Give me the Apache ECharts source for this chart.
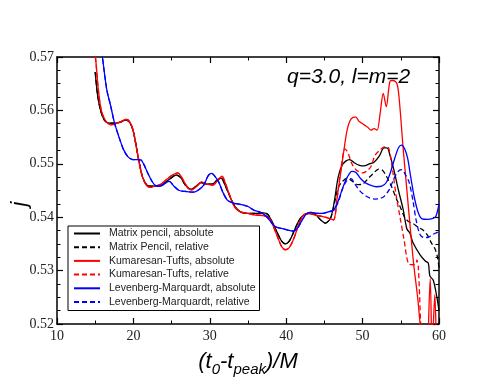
<!DOCTYPE html>
<html>
<head>
<meta charset="utf-8">
<script src="https://cdn.jsdelivr.net/npm/echarts@6/dist/echarts.min.js"></script>
<style>html,body{margin:0;padding:0;background:#fff}#c{width:494px;height:382px}</style>
</head>
<body>
<div id="c"></div>
<script>
// Axis ticks
const xTicks = [10, 20, 30, 40, 50, 60];
const yTicks = [0.52, 0.53, 0.54, 0.55, 0.56, 0.57];

// Series names
const seriesNames = [
  'Matrix pencil, absolute',
  'Matrix Pencil, relative',
  'Kumaresan-Tufts, absolute',
  'Kumaresan-Tufts, relative',
  'Levenberg-Marquardt, absolute',
  'Levenberg-Marquardt, relative'
];

// Shared early part of black curves [t, j]
const mpEarly = [[15.0,0.5672],[15.3,0.5630],[15.7,0.5600],[16.2,0.5582],[16.9,0.5576],[17.6,0.5576],[18.3,0.5578],[19.0,0.5582],[19.5,0.5578],[20.0,0.5560],[20.6,0.5515],[21.2,0.5475],[21.8,0.5460],[22.5,0.5458],[23.3,0.5459],[24.0,0.5463],[24.8,0.5472],[25.6,0.5479],[26.2,0.5474],[26.8,0.5460],[27.5,0.5452],[28.2,0.5458],[28.9,0.5465],[29.6,0.5462],[30.3,0.5462],[31.0,0.5470],[31.5,0.5473],[32.0,0.5460],[32.6,0.5440],[33.3,0.5420],[34.0,0.5410],[35.0,0.5407],[36.0,0.5407],[37.0,0.5408],[37.6,0.5405],[38.2,0.5390],[38.8,0.5372],[39.4,0.5355],[39.9,0.5350],[40.4,0.5355],[41.0,0.5373],[41.6,0.5392],[42.2,0.5403],[43.0,0.5407],[43.8,0.5405],[44.5,0.5395],[45.1,0.5389],[45.8,0.5398]];
const mpAbsLate = [[46.3,0.5430],[46.8,0.5475],[47.3,0.5497],[47.8,0.5505],[48.3,0.5508],[48.9,0.5502],[49.6,0.5497],[50.2,0.5496],[50.9,0.5500],[51.5,0.5503],[52.2,0.5515],[52.8,0.5530],[53.2,0.5530],[53.6,0.5515],[54.1,0.5488],[54.7,0.5450],[55.3,0.5415],[55.8,0.5378],[56.2,0.5370],[56.6,0.5352],[57.5,0.5330],[58.2,0.5318],[58.6,0.5314],[58.8,0.5290],[59.25,0.5282],[59.7,0.5252],[60.0,0.5225]];
const mpRelLate = [[46.3,0.5425],[46.8,0.5455],[47.3,0.5466],[48.0,0.5473],[48.6,0.5468],[49.4,0.5461],[50.0,0.5462],[50.7,0.5472],[51.4,0.5482],[52.1,0.5490],[52.6,0.5488],[53.1,0.5477],[53.8,0.5457],[54.4,0.5435],[54.9,0.5420],[55.5,0.5400],[56.0,0.5392],[56.6,0.5388],[57.2,0.5382],[57.9,0.5376],[58.5,0.5366],[59.0,0.5352],[59.5,0.5340],[59.8,0.5325],[60.0,0.5305]];

// Shared early part of red curves
const ktEarly = [[14.9,0.5715],[15.1,0.5690],[15.4,0.5640],[15.8,0.5600],[16.3,0.5582],[17.0,0.5573],[17.7,0.5575],[18.4,0.5579],[19.0,0.5583],[19.4,0.5581],[19.9,0.5566],[20.4,0.5530],[21.0,0.5485],[21.6,0.5462],[22.2,0.5456],[22.9,0.5458],[23.6,0.5462],[24.3,0.5470],[25.0,0.5478],[25.8,0.5483],[26.3,0.5475],[26.9,0.5460],[27.6,0.5451],[28.3,0.5458],[28.9,0.5466],[29.6,0.5462],[30.4,0.5460],[31.0,0.5468],[31.6,0.5477],[32.0,0.5465],[32.5,0.5445],[33.2,0.5420],[34.0,0.5410],[35.0,0.5407],[36.0,0.5404],[37.0,0.5403],[37.8,0.5398],[38.4,0.5380],[38.9,0.5362],[39.4,0.5345],[39.9,0.5339],[40.4,0.5343],[41.0,0.5360],[41.6,0.5385],[42.2,0.5403],[42.9,0.5407],[43.8,0.5404],[44.8,0.5401],[45.6,0.5398],[46.2,0.5395]];
const ktAbsLate = [[46.7,0.5440],[47.2,0.5490],[47.6,0.5530],[48.0,0.5565],[48.5,0.5584],[49.1,0.5588],[49.5,0.5580],[49.9,0.5576],[50.3,0.5572],[50.7,0.5568],[51.1,0.5563],[51.5,0.5566],[51.9,0.5563],[52.3,0.5595],[52.7,0.5632],[53.1,0.5607],[53.6,0.5655],[54.0,0.5656],[54.5,0.5650],[54.8,0.5620],[55.3,0.5530],[55.8,0.5450],[56.3,0.5370],[56.7,0.5310],[57.2,0.5250],[57.6,0.5190],[58.3,0.5100],[58.85,0.5285],[59.1,0.5150],[59.45,0.5255],[59.7,0.5150],[60.0,0.5100]];
const ktRelLate = [[46.7,0.5440],[47.2,0.5495],[47.7,0.5528],[48.1,0.5520],[48.6,0.5500],[49.2,0.5488],[50.0,0.5483],[50.6,0.5487],[51.1,0.5495],[51.6,0.5515],[52.3,0.5526],[52.9,0.5532],[53.4,0.5530],[53.9,0.5490],[54.4,0.5440],[54.9,0.5400],[55.4,0.5360],[56.0,0.5313],[56.6,0.5311],[57.0,0.5313],[57.1,0.5320],[57.3,0.5305],[57.6,0.5200],[57.9,0.5100]];

// Shared early part of blue curves
const lmEarly = [[15.0,0.5800],[15.9,0.5705],[16.5,0.5640],[17.0,0.5610],[17.5,0.5578],[18.0,0.5555],[18.7,0.5527],[19.3,0.5513],[19.9,0.5508],[20.5,0.5508],[21.0,0.5507],[21.4,0.5498],[21.9,0.5482],[22.4,0.5468],[22.9,0.5459],[23.5,0.5458],[24.2,0.5464],[24.7,0.5467],[25.3,0.5458],[26.0,0.5450],[27.0,0.5448],[27.9,0.5447],[28.6,0.5452],[29.2,0.5460],[29.8,0.5478],[30.25,0.5482],[30.7,0.5476],[31.2,0.5465],[31.7,0.5447],[32.3,0.5432],[33.0,0.5427],[34.0,0.5424],[35.0,0.5420],[35.8,0.5413],[36.5,0.5410],[37.3,0.5403],[37.9,0.5393],[38.6,0.5382],[39.4,0.5379],[40.2,0.5376],[40.9,0.5374],[41.5,0.5380],[42.1,0.5395],[42.7,0.5407],[43.3,0.5409],[44.0,0.5407],[44.8,0.5407],[45.5,0.5410],[46.2,0.5413]];
const lmAbsLate = [[46.8,0.5430],[47.4,0.5455],[48.0,0.5475],[48.6,0.5486],[49.1,0.5484],[49.7,0.5473],[50.3,0.5465],[51.0,0.5460],[51.8,0.5457],[52.5,0.5458],[53.1,0.5465],[53.6,0.5482],[54.2,0.5510],[54.7,0.5530],[55.1,0.5535],[55.5,0.5528],[55.9,0.5510],[56.3,0.5475],[56.8,0.5435],[57.3,0.5408],[57.8,0.5397],[58.5,0.5396],[59.2,0.5398],[59.6,0.5402],[60.0,0.5425]];
const lmRelLate = [[46.8,0.5428],[47.3,0.5450],[47.9,0.5468],[48.5,0.5472],[49.0,0.5462],[49.6,0.5450],[50.2,0.5442],[50.9,0.5436],[51.6,0.5434],[52.3,0.5435],[52.9,0.5440],[53.5,0.5452],[54.1,0.5472],[54.6,0.5485],[55.1,0.5489],[55.6,0.5480],[56.1,0.5465],[56.6,0.5430],[57.0,0.5395],[57.5,0.5368],[58.0,0.5362],[58.5,0.5362],[59.0,0.5366],[59.5,0.5370],[60.0,0.5373]];

const mpAbs = mpEarly.concat(mpAbsLate);
const mpRel = mpEarly.concat(mpRelLate);
const ktAbs = ktEarly.concat(ktAbsLate);
const ktRel = ktEarly.concat(ktRelLate);
const lmAbs = lmEarly.concat(lmAbsLate);
const lmRel = lmEarly.concat(lmRelLate);

const seriesData = [mpAbs, mpRel, ktAbs, ktRel, lmAbs, lmRel];
const colors = ['#000000', '#000000', '#ff0000', '#ff0000', '#0000ff', '#0000ff'];
const dashed = [false, true, false, true, false, true];

const chart = echarts.init(document.getElementById('c'), null, {renderer: 'canvas'});

const serifFont = '"Liberation Serif", "DejaVu Serif", "Times New Roman", serif';
const sansFont = '"Liberation Sans", Arial, Helvetica, sans-serif';

function axisBase(extra) {
  return Object.assign({
    type: 'value',
    axisLine: {show: true, onZero: false, lineStyle: {color: '#000', width: 1.5}},
    axisTick: {show: true, inside: true, length: 6, lineStyle: {color: '#000', width: 1.2}},
    minorTick: {show: true, length: 3.5, lineStyle: {color: '#000', width: 1}},
    splitLine: {show: false},
    axisLabel: {show: false}
  }, extra);
}

const xCommon = {min: xTicks[0], max: xTicks[xTicks.length - 1], interval: xTicks[1] - xTicks[0]};
const yCommon = {min: yTicks[0], max: yTicks[yTicks.length - 1], interval: 0.01};

const option = {
  animation: false,
  backgroundColor: '#fff',
  grid: {left: 57, right: 55, top: 57, bottom: 58, containLabel: false},
  xAxis: [
    axisBase(Object.assign({}, xCommon, {
      position: 'bottom',
      minorTick: {show: true, splitNumber: 2, length: 3.5, lineStyle: {color: '#000', width: 1}},
      axisLabel: {show: true, margin: 5, fontFamily: serifFont, fontSize: 14, color: '#222'},
      name: '{a|(t}{s|0}{a|-t}{s|peak}{a|)/M}',
      nameLocation: 'middle',
      nameGap: 13,
      nameTextStyle: {
        rich: {
          a: {fontFamily: sansFont, fontStyle: 'italic', fontSize: 22, color: '#000', lineHeight: 26, verticalAlign: 'top'},
          s: {fontFamily: sansFont, fontStyle: 'italic', fontSize: 15, color: '#000', lineHeight: 15, verticalAlign: 'bottom', padding: [14, 0, 0, 0]}
        }
      }
    })),
    axisBase(Object.assign({}, xCommon, {
      position: 'top',
      minorTick: {show: true, splitNumber: 2, length: 3.5, lineStyle: {color: '#000', width: 1}}
    }))
  ],
  yAxis: [
    axisBase(Object.assign({}, yCommon, {
      position: 'left',
      minorTick: {show: true, splitNumber: 4, length: 3.5, lineStyle: {color: '#000', width: 1}},
      axisLabel: {show: true, margin: 3, fontFamily: serifFont, fontSize: 14, color: '#222',
        formatter: v => v.toFixed(2)}
    })),
    axisBase(Object.assign({}, yCommon, {
      position: 'right',
      minorTick: {show: true, splitNumber: 4, length: 3.5, lineStyle: {color: '#000', width: 1}}
    }))
  ],
  legend: {
    show: true,
    orient: 'vertical',
    left: 68,
    top: 226,
    padding: [2, 4, 3, 5],
    itemWidth: 26,
    itemHeight: 11,
    itemGap: 2.7,
    backgroundColor: '#fff',
    borderColor: '#000',
    borderWidth: 1,
    borderRadius: 0,
    itemStyle: {opacity: 0},
    textStyle: {fontFamily: sansFont, fontSize: 10.5, color: '#222', padding: [0, 0, 0, 4]},
    data: seriesNames
  },
  graphic: [
    {
      type: 'text', x: 287, y: 77, z: 10,
      style: {text: 'q=3.0, l=m=2', font: 'italic 21px ' + sansFont, fill: '#000', align: 'left', verticalAlign: 'middle'}
    },
    {
      type: 'text', x: 20, y: 204, rotation: Math.PI / 2, z: 10,
      style: {text: 'j', font: 'italic 22px ' + sansFont, fill: '#000', align: 'center', verticalAlign: 'middle'}
    }
  ],
  series: seriesData.map((d, i) => ({
    name: seriesNames[i],
    type: 'line',
    xAxisIndex: 0,
    yAxisIndex: 0,
    data: d,
    symbol: 'none',
    smooth: 0.3,
    clip: true,
    color: colors[i],
    lineStyle: {color: colors[i], width: 1.3, type: dashed[i] ? [5, 3] : 'solid'},
    z: 2 + i
  }))
};

chart.setOption(option);
</script>
</body>
</html>
